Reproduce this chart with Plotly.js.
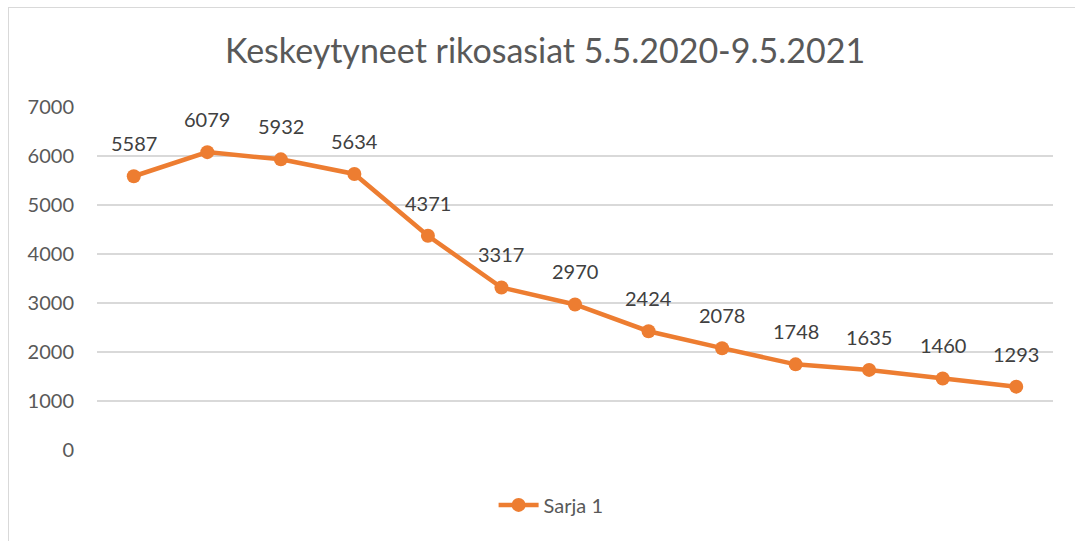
<!DOCTYPE html>
<html>
<head>
<meta charset="utf-8">
<script src="https://cdn.plot.ly/plotly-3.0.1.min.js"></script>
<style>
  html, body { margin: 0; padding: 0; background: #fff; overflow: hidden; }
  #chart { width: 1075px; height: 541px; }
  #frame { position: absolute; left: 8px; top: 7px; width: 1200px; height: 700px; border: 1px solid #d9d9d9; pointer-events: none; }
</style>
</head>
<body>
<div id="chart"></div>
<div id="frame"></div>
<script>
const categories = ["P1","P2","P3","P4","P5","P6","P7","P8","P9","P10","P11","P12","P13"];
const values = [5587, 6079, 5932, 5634, 4371, 3317, 2970, 2424, 2078, 1748, 1635, 1460, 1293];
const seriesName = "Sarja 1";
const yTicks = [0, 1000, 2000, 3000, 4000, 5000, 6000, 7000];

const FONT = "Lato, 'Liberation Sans', sans-serif";
const ORANGE = "#ED7D31";

const trace = {
  x: categories,
  y: values,
  type: "scatter",
  mode: "lines+markers",
  name: seriesName,
  line: { color: ORANGE, width: 4.5 },
  marker: { color: ORANGE, size: 14 },
  hoverinfo: "x+y"
};

const annotations = values.map((v, i) => ({
  x: categories[i], y: v, xref: "x", yref: "y",
  text: String(v), showarrow: false,
  yanchor: "middle", yshift: 33,
  font: { family: FONT, size: 20, color: "#404040" }
}));

const layout = {
  width: 1075, height: 541,
  margin: { l: 97, r: 22, t: 107, b: 91 },
  paper_bgcolor: "rgba(0,0,0,0)",
  plot_bgcolor: "rgba(0,0,0,0)",
  title: {
    text: "Keskeytyneet rikosasiat 5.5.2020-9.5.2021",
    font: { family: FONT, size: 34, color: "#595959" },
    x: 0.507, xanchor: "center", y: 0.905, yanchor: "middle"
  },
  xaxis: {
    type: "category",
    categoryarray: categories,
    range: [-0.5, 12.5],
    showticklabels: false,
    showgrid: false,
    zeroline: false,
    showline: false,
    ticks: ""
  },
  yaxis: {
    range: [0, 7000],
    tickvals: yTicks,
    ticktext: yTicks.map(String),
    showgrid: true,
    gridcolor: "#d9d9d9",
    gridwidth: 1.3,
    zeroline: false,
    showline: false,
    ticks: "",
    ticklabelstandoff: 22,
    tickfont: { family: FONT, size: 20, color: "#595959" }
  },
  showlegend: true,
  legend: {
    orientation: "h",
    x: 0.475, xanchor: "center",
    y: -0.16, yanchor: "middle",
    font: { family: FONT, size: 20, color: "#595959" },
    itemwidth: 40
  },
  annotations: annotations
};

Plotly.newPlot("chart", [trace], layout, { displayModeBar: false, staticPlot: true });
</script>
</body>
</html>
